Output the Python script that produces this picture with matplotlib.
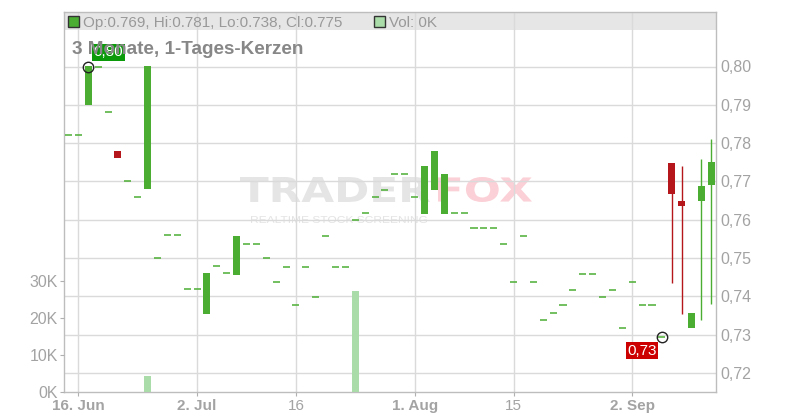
import matplotlib
matplotlib.use('Agg')
import matplotlib.pyplot as plt
import numpy as np
from matplotlib.textpath import TextPath
from matplotlib.patches import PathPatch, Rectangle
from matplotlib.font_manager import FontProperties
from matplotlib.transforms import Affine2D, IdentityTransform

plt.rcParams['font.family'] = ['Liberation Sans', 'DejaVu Sans']

# daily candles, 13 Jun .. 12 Sep (trading day index)
opens = [0.782, 0.782, 0.790, 0.800, 0.788, 0.778, 0.770, 0.766, 0.768, 0.750,
         0.756, 0.756, 0.742, 0.742, 0.7355, 0.748, 0.746, 0.7456, 0.7536, 0.7536,
         0.750, 0.7437, 0.7476, 0.7377, 0.7476, 0.7398, 0.7557, 0.7476, 0.7476, 0.760,
         0.7618, 0.766, 0.7678, 0.772, 0.772, 0.766, 0.7616, 0.7677, 0.7616, 0.7618,
         0.7618, 0.7578, 0.7578, 0.7578, 0.7536, 0.7438, 0.7557, 0.7438, 0.7339, 0.7357,
         0.7378, 0.7416, 0.7458, 0.7458, 0.7398, 0.7416, 0.7317, 0.7437, 0.7378, 0.7378,
         0.7294, 0.7748, 0.7650, 0.7316, 0.7648, 0.769]
closes = [0.782, 0.782, 0.800, 0.800, 0.788, 0.776, 0.770, 0.766, 0.800, 0.750,
          0.756, 0.756, 0.742, 0.742, 0.746, 0.748, 0.746, 0.7558, 0.7536, 0.7536,
          0.750, 0.7437, 0.7476, 0.7377, 0.7476, 0.7398, 0.7557, 0.7476, 0.7476, 0.760,
          0.7618, 0.766, 0.7678, 0.772, 0.772, 0.766, 0.7739, 0.778, 0.772, 0.7618,
          0.7618, 0.7578, 0.7578, 0.7578, 0.7536, 0.7438, 0.7557, 0.7438, 0.7339, 0.7357,
          0.7378, 0.7416, 0.7458, 0.7458, 0.7398, 0.7416, 0.7317, 0.7437, 0.7378, 0.7378,
          0.7294, 0.7666, 0.7637, 0.7357, 0.7689, 0.775]
highs = [0.782, 0.782, 0.800, 0.800, 0.788, 0.778, 0.770, 0.766, 0.800, 0.750,
         0.756, 0.756, 0.742, 0.742, 0.746, 0.748, 0.746, 0.7558, 0.7536, 0.7536,
         0.750, 0.7437, 0.7476, 0.7377, 0.7476, 0.7398, 0.7557, 0.7476, 0.7476, 0.760,
         0.7618, 0.766, 0.7678, 0.772, 0.772, 0.766, 0.7739, 0.778, 0.772, 0.7618,
         0.7618, 0.7578, 0.7578, 0.7578, 0.7536, 0.7438, 0.7557, 0.7438, 0.7339, 0.7357,
         0.7378, 0.7416, 0.7458, 0.7458, 0.7398, 0.7416, 0.7317, 0.7437, 0.7378, 0.7378,
         0.7294, 0.7748, 0.7739, 0.7357, 0.7759, 0.781]
lows = [0.782, 0.782, 0.790, 0.800, 0.788, 0.776, 0.770, 0.766, 0.768, 0.750,
        0.756, 0.756, 0.742, 0.742, 0.7355, 0.748, 0.746, 0.7456, 0.7536, 0.7536,
        0.750, 0.7437, 0.7476, 0.7377, 0.7476, 0.7398, 0.7557, 0.7476, 0.7476, 0.760,
        0.7618, 0.766, 0.7678, 0.772, 0.772, 0.766, 0.7616, 0.7677, 0.7616, 0.7618,
        0.7618, 0.7578, 0.7578, 0.7578, 0.7536, 0.7438, 0.7557, 0.7438, 0.7339, 0.7357,
        0.7378, 0.7416, 0.7458, 0.7458, 0.7398, 0.7416, 0.7317, 0.7437, 0.7378, 0.7378,
        0.7294, 0.7436, 0.7355, 0.7316, 0.7337, 0.738]
volumes = [0, 0, 0, 0, 0, 0, 0, 0, 4200, 0,
           0, 0, 0, 0, 0, 0, 0, 0, 0, 0,
           0, 0, 0, 0, 0, 0, 0, 0, 0, 27200,
           0, 0, 0, 0, 0, 0, 0, 0, 0, 0,
           0, 0, 0, 0, 0, 0, 0, 0, 0, 0,
           0, 0, 0, 0, 0, 0, 0, 0, 0, 0,
           0, 0, 0, 0, 0, 0]

date_ticks = [1, 13, 23, 35, 45, 57]
date_labels = ['16. Jun', '2. Jul', '16', '1. Aug', '15', '2. Sep']
date_bold = [True, True, False, True, False, True]
price_ticks = [0.72, 0.73, 0.74, 0.75, 0.76, 0.77, 0.78, 0.79, 0.80]
price_labels = ['0,72', '0,73', '0,74', '0,75', '0,76', '0,77', '0,78', '0,79', '0,80']
vol_ticks = [0, 10000, 20000, 30000]
vol_labels = ['0K', '10K', '20K', '30K']

GREEN = '#4bae33'
RED = '#b5161b'
VOLC = '#a9dca9'
GRID = '#dadada'
TXT = '#a3a3a3'

W, H = 800, 420
fig = plt.figure(figsize=(8, 4.2), dpi=100)
L, R, B, T = 63.5, 716, 392, 11.5
ax = fig.add_axes([L / W, 1 - B / H, (R - L) / W, (B - T) / H])
ax.patch.set_visible(False)
axv = ax.twinx()

x = np.arange(len(opens))
o = np.array(opens); c = np.array(closes); hi = np.array(highs); lo = np.array(lows)
w = 0.71

# candles
flat = o == c
col = np.where(c >= o, GREEN, RED)
ax.hlines(o[flat], x[flat] - w / 2, x[flat] + w / 2, color=GREEN, lw=1.1, zorder=3)
wick = (hi > np.maximum(o, c)) | (lo < np.minimum(o, c))
ax.vlines(x[wick], lo[wick], hi[wick], color=col[wick], lw=1.0, zorder=3)
ax.bar(x[~flat], (c - o)[~flat], bottom=o[~flat], width=w, color=col[~flat], zorder=4)

# volume
axv.bar(x, volumes, width=w, color=VOLC, zorder=2)

# high / low markers
ih = int(np.argmax(hi)); il = int(np.argmin(lo))
ax.plot([ih], [hi[ih]], 'o', ms=7.5, mfc='none', mec='#222222', mew=1, zorder=6)
ax.plot([il], [lo[il]], 'o', ms=7.5, mfc='none', mec='#222222', mew=1, zorder=6)
ax.annotate('0,80', xy=(ih, hi[ih]), xytext=(20, 14), textcoords='offset pixels',
            ha='center', va='center', color='white', fontsize=11,
            bbox=dict(boxstyle='square,pad=0.1', fc='#0a9a0a', ec='none'), zorder=7)
ax.annotate('0,73', xy=(il, lo[il]), xytext=(-20, -14), textcoords='offset pixels',
            ha='center', va='center', color='white', fontsize=11,
            bbox=dict(boxstyle='square,pad=0.1', fc='#cc0000', ec='none'), zorder=7)

# axes
ax.set_xlim((L - 68.5) / 9.89, (R - 68.5) / 9.89)
ax.set_ylim(0.80 - (B - 66.5) / 38.3 * 0.01, 0.80 + (66.5 - T) / 38.3 * 0.01)
axv.set_ylim(0, (B - T) / 3.7 * 1000)

ax.yaxis.tick_right()
ax.set_yticks(price_ticks)
ax.set_yticklabels(price_labels)
ax.tick_params(axis='y', length=0, pad=3, labelsize=11.5, labelcolor=TXT)
ax.set_xticks(date_ticks)
ax.set_xticklabels(date_labels)
ax.tick_params(axis='x', length=3, color='#b0b0b0', pad=2, labelsize=11, labelcolor=TXT)
for lab, b in zip(ax.get_xticklabels(), date_bold):
    lab.set_fontweight('bold' if b else 'normal')

axv.yaxis.tick_left()
axv.set_yticks(vol_ticks)
axv.set_yticklabels(vol_labels)
axv.tick_params(axis='y', length=3, color='#b0b0b0', pad=1, labelsize=11.5, labelcolor=TXT)

ax.set_axisbelow(True)
ax.grid(True, color=GRID, lw=1)
for s in ax.spines.values():
    s.set_color('#bdbdbd')
    s.set_linewidth(1)
for s in axv.spines.values():
    s.set_visible(False)

# header band and watermark
fig.add_artist(Rectangle((L, H - 30), R - L, 30 - T, transform=IdentityTransform(),
                         fc='#e6e6e6', ec='none', zorder=-2))


def watermark(text, x0, x1, ytop, ybot, color, family='DejaVu Sans', weight='bold'):
    tp = TextPath((0, 0), text, size=1, prop=FontProperties(family=family, weight=weight))
    ext = tp.get_extents()
    tr = Affine2D().translate(-ext.x0, -ext.y0).scale((x1 - x0) / ext.width, (ybot - ytop) / ext.height)
    tr = tr.translate(x0, H - ybot)
    fig.add_artist(PathPatch(tr.transform_path(tp), transform=IdentityTransform(),
                             fc=color, ec='none', zorder=-1))


watermark('TRADER', 240, 430, 177, 202, '#e5e5e5')
watermark('FOX', 438, 532, 177, 202, '#fbd0d6')
watermark('REALTIME STOCK SCREENING', 251, 427, 216, 223, '#e3e3e3',
          family='Liberation Sans', weight='normal')

fig.add_artist(Rectangle((68, H - 27), 11, 11, transform=IdentityTransform(),
                         fc=GREEN, ec='#333333', lw=1, zorder=5))
fig.add_artist(Rectangle((374, H - 27), 11, 11, transform=IdentityTransform(),
                         fc=VOLC, ec='#333333', lw=1, zorder=5))
fig.text(83 / W, 1 - 26.7 / H, 'Op:0.769, Hi:0.781, Lo:0.738, Cl:0.775',
         fontsize=11, color='#999999', va='baseline')
fig.text(389 / W, 1 - 26.7 / H, 'Vol: 0K', fontsize=11, color='#999999', va='baseline')
fig.text(72 / W, 1 - 54 / H, '3 Monate, 1-Tages-Kerzen', fontsize=13.6,
         fontweight='bold', color='#878787', va='baseline')

fig.savefig('out.png', dpi=100)
